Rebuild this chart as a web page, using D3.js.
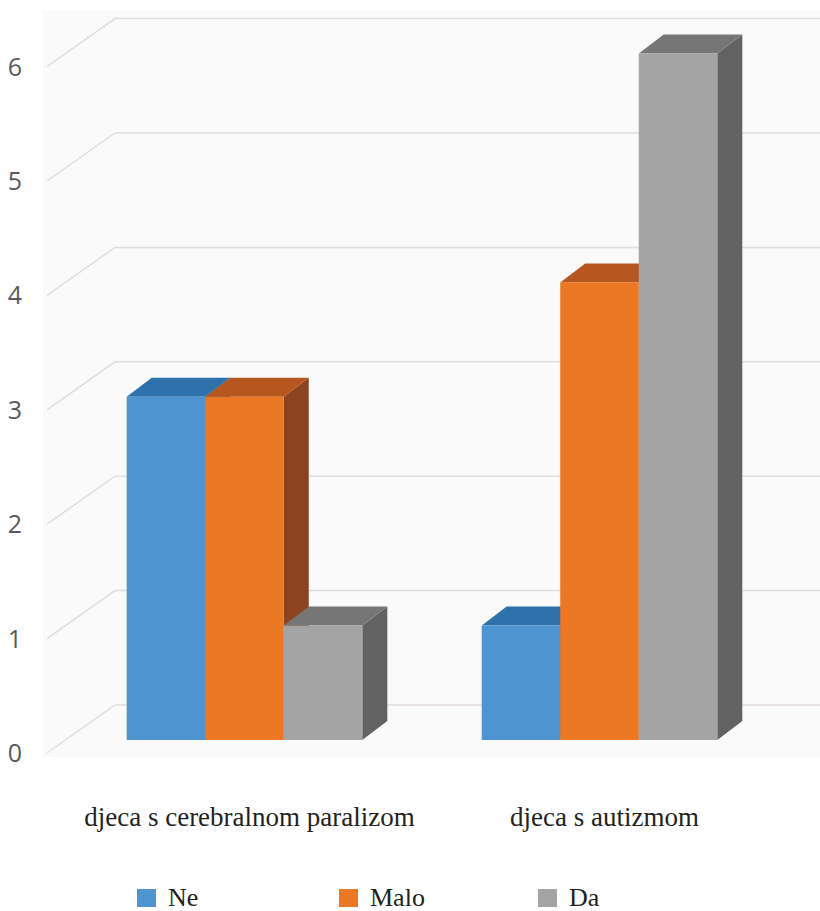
<!DOCTYPE html>
<html>
<head>
<meta charset="utf-8">
<script src="https://cdn.jsdelivr.net/npm/d3@7"></script>
<style>
  html, body { margin: 0; padding: 0; background: #ffffff; }
  svg { display: block; }
</style>
</head>
<body>
<svg id="chart" width="820" height="911"></svg>
<script>
// Data
const categories = ["djeca s cerebralnom paralizom", "djeca s autizmom"];
const seriesNames = ["Ne", "Malo", "Da"];
const neValues = [3, 1];
const maloValues = [3, 4];
const daValues = [1, 6];
const yTicks = [0, 1, 2, 3, 4, 5, 6];

const seriesValues = [neValues, maloValues, daValues];

// Face colours per series: front, top, side
const palette = {
  "Ne":   { front: "#4e94d0", top: "#2e72ab", side: "#275f8f" },
  "Malo": { front: "#ed7823", top: "#b5571e", side: "#8c4420" },
  "Da":   { front: "#a4a4a4", top: "#767676", side: "#626262" }
};

const serifFont = '"Liberation Serif", "Times New Roman", serif';
const sansFont = '"Open Sans", sans-serif';

const svg = d3.select("#chart");

// Scales
const y = d3.scaleLinear().domain([0, 6]).range([740, 53.6]);
const xCat = d3.scaleBand().domain(categories).range([67, 777]);
const xSer = d3.scaleBand().domain(seriesNames)
  .range([0, xCat.bandwidth()]).paddingInner(0).paddingOuter(0.76);

// 3D projection offsets
const depthDX = 25, depthDY = -19;       // bar depth
const wallDX = 68, wallDY = -48;         // floor-to-back-wall depth
const frontOffY = 13;                    // front edge of the floor relative to bar fronts
const wallLeftX = 47;

// Plot area background
svg.append("rect")
  .attr("x", 43).attr("y", 10)
  .attr("width", 777).attr("height", 747)
  .attr("fill", "#fafafa");

// Gridlines: diagonal on side wall, horizontal on back wall
const grid = svg.append("g").attr("fill", "none")
  .attr("stroke", "#e2dcd8").attr("stroke-width", 1.5);
yTicks.forEach(v => {
  const yf = y(v) + frontOffY;
  grid.append("polyline")
    .attr("points", [
      [wallLeftX, yf],
      [wallLeftX + wallDX, yf + wallDY],
      [820, yf + wallDY]
    ].map(p => p.join(",")).join(" "));
});

// Y axis labels
svg.append("g").selectAll("text").data(yTicks).join("text")
  .attr("x", 15)
  .attr("y", d => y(d) + frontOffY)
  .attr("dy", "0.36em")
  .attr("text-anchor", "middle")
  .style("font-family", sansFont)
  .attr("font-size", 25)
  .attr("fill", "#595959")
  .text(d => d);

// Bars as 3D boxes, drawn left to right
const bars = svg.append("g");
const pts = arr => arr.map(p => p.join(",")).join(" ");
categories.forEach((cat, ci) => {
  seriesNames.forEach((s, si) => {
    const v = seriesValues[si][ci];
    const x0 = xCat(cat) + xSer(s);
    const x1 = x0 + xSer.bandwidth();
    const yt = y(v), yb = y(0);
    const c = palette[s];
    const g = bars.append("g");
    // side face
    g.append("polygon").attr("fill", c.side).attr("points", pts([
      [x1, yt], [x1 + depthDX, yt + depthDY], [x1 + depthDX, yb + depthDY], [x1, yb]
    ]));
    // top face
    g.append("polygon").attr("fill", c.top).attr("points", pts([
      [x0, yt], [x0 + depthDX, yt + depthDY], [x1 + depthDX, yt + depthDY], [x1, yt]
    ]));
    // front face
    g.append("rect").attr("fill", c.front)
      .attr("x", x0).attr("y", yt)
      .attr("width", x1 - x0).attr("height", yb - yt);
  });
});

// Category labels
svg.append("g").selectAll("text").data(categories).join("text")
  .attr("x", d => xCat(d) + xCat.bandwidth() / 2 + 5)
  .attr("y", 826)
  .attr("text-anchor", "middle")
  .style("font-family", serifFont)
  .attr("font-size", 27)
  .attr("fill", "#231f20")
  .text(d => d);

// Legend
const legendX = [137, 339, 538];
const legend = svg.append("g").selectAll("g").data(seriesNames).join("g")
  .attr("transform", (d, i) => `translate(${legendX[i]},889)`);
legend.append("rect")
  .attr("width", 19).attr("height", 18)
  .attr("fill", d => palette[d].front);
legend.append("text")
  .attr("x", 31).attr("y", 17)
  .style("font-family", serifFont)
  .attr("font-size", 26)
  .attr("fill", "#231f20")
  .text(d => d);
</script>
</body>
</html>
